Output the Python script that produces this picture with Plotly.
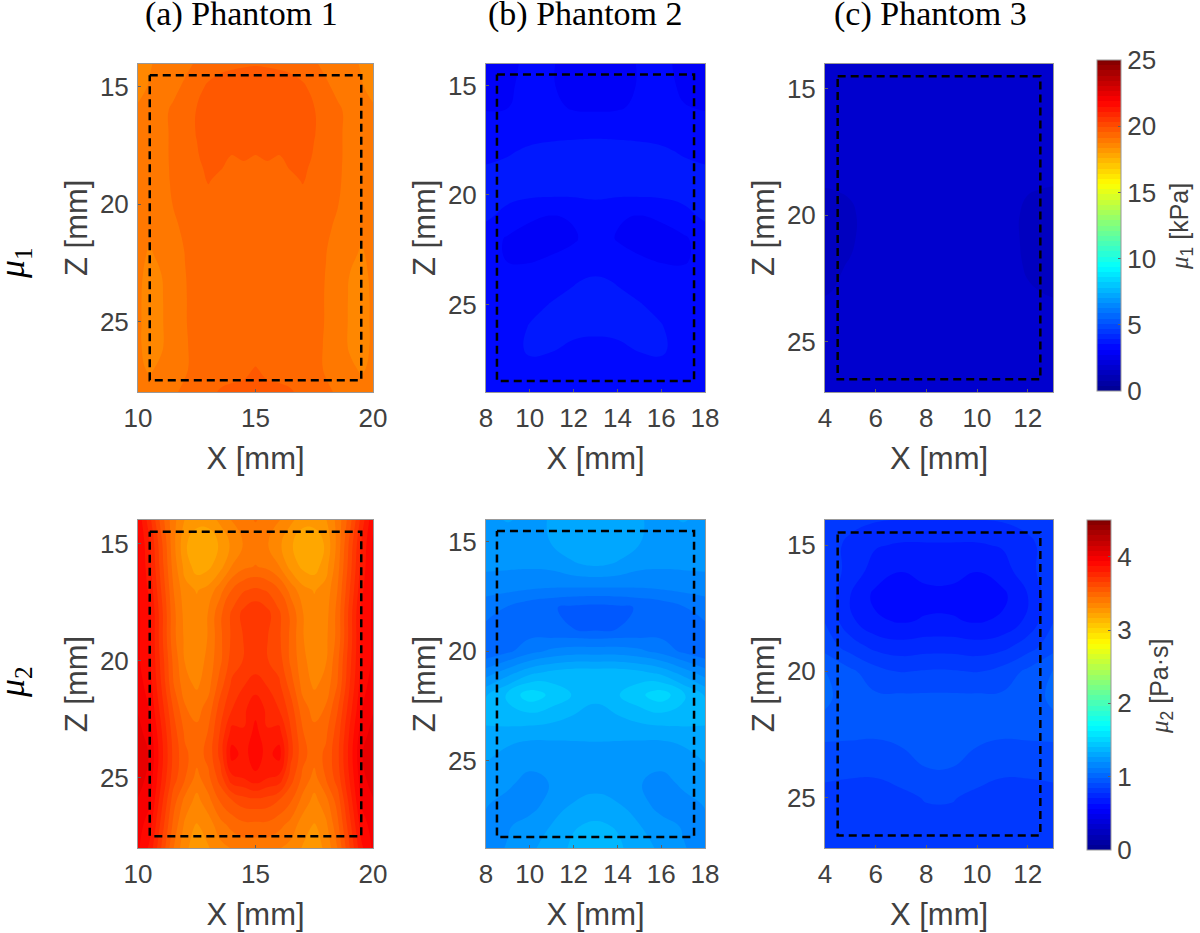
import plotly.graph_objects as go

JET = [[0, "rgb(0,0,143)"], [0.125, "rgb(0,0,255)"], [0.375, "rgb(0,255,255)"],
       [0.625, "rgb(255,255,0)"], [0.875, "rgb(255,0,0)"], [1, "rgb(128,0,0)"]]

# ---- axis grids ----
x1_fine = [10, 10.5, 11, 11.5, 12, 12.5, 13, 13.5, 14, 14.5, 15, 15.5, 16, 16.5, 17, 17.5, 18, 18.5, 19, 19.5, 20]
z1a = [14, 15, 16, 17, 18, 18.5, 19, 20, 21, 22, 23, 24, 25, 26, 27, 28]
z1 = [14, 15, 16, 17, 18, 19, 20, 21, 22, 23, 24, 25, 26, 27, 28]
x2 = [8, 9, 10, 11, 12, 13, 14, 15, 16, 17, 18]
z2 = [14, 15, 16, 17, 18, 19, 20, 21, 22, 23, 24, 25, 26, 27, 28, 29]
x3 = [4, 5, 6, 7, 8, 9, 10, 11, 12, 13]
z3 = [14, 15, 16, 17, 18, 19, 20, 21, 22, 23, 24, 25, 26, 27]

# ---- mu1 [kPa] ----
mu1_p1 = [
 [18.65,18.72,18.85,18.95,19.05,19.18,19.3,19.4,19.45,19.48,19.5,19.48,19.45,19.4,19.3,19.18,19.05,18.95,18.85,18.72,18.65],
 [18.65,18.78,18.92,19.05,19.2,19.4,19.6,19.7,19.75,19.78,19.8,19.78,19.75,19.7,19.6,19.4,19.2,19.05,18.92,18.78,18.65],
 [18.8,18.95,19.05,19.2,19.35,19.55,19.7,19.8,19.85,19.85,19.85,19.85,19.85,19.8,19.7,19.55,19.35,19.2,19.05,18.95,18.8],
 [18.85,18.95,19.05,19.2,19.35,19.55,19.7,19.78,19.8,19.8,19.8,19.8,19.8,19.78,19.7,19.55,19.35,19.2,19.05,18.95,18.85],
 [18.85,18.95,19.05,19.2,19.33,19.48,19.7,19.62,19.5,19.58,19.5,19.58,19.5,19.62,19.7,19.48,19.33,19.2,19.05,18.95,18.85],
 [18.85,18.95,19.05,19.19,19.3,19.42,19.62,19.55,19.42,19.42,19.42,19.42,19.42,19.55,19.62,19.42,19.3,19.19,19.05,18.95,18.85],
 [18.85,18.95,19.05,19.18,19.28,19.4,19.56,19.4,19.38,19.38,19.38,19.38,19.38,19.4,19.56,19.4,19.28,19.18,19.05,18.95,18.85],
 [18.85,18.95,19.03,19.15,19.25,19.3,19.36,19.35,19.35,19.35,19.35,19.35,19.35,19.35,19.36,19.3,19.25,19.15,19.03,18.95,18.85],
 [18.85,18.8,18.95,19.08,19.2,19.28,19.32,19.33,19.33,19.33,19.33,19.33,19.33,19.33,19.32,19.28,19.2,19.08,18.95,18.8,18.85],
 [18.85,18.72,18.85,19.0,19.15,19.25,19.3,19.32,19.32,19.32,19.32,19.32,19.32,19.32,19.3,19.25,19.15,19.0,18.85,18.72,18.85],
 [18.8,18.68,18.75,18.95,19.13,19.25,19.3,19.32,19.32,19.32,19.32,19.32,19.32,19.32,19.3,19.25,19.13,18.95,18.75,18.68,18.8],
 [18.78,18.68,18.72,18.95,19.12,19.25,19.3,19.32,19.32,19.32,19.32,19.32,19.32,19.32,19.3,19.25,19.12,18.95,18.72,18.68,18.78],
 [18.78,18.68,18.72,18.92,19.12,19.25,19.3,19.32,19.32,19.32,19.32,19.32,19.32,19.32,19.3,19.25,19.12,18.92,18.72,18.68,18.78],
 [18.78,18.68,18.72,18.9,19.1,19.25,19.3,19.32,19.32,19.32,19.33,19.32,19.32,19.32,19.3,19.25,19.1,18.9,18.72,18.68,18.78],
 [18.8,18.72,18.8,18.95,19.1,19.25,19.35,19.38,19.42,19.45,19.55,19.45,19.42,19.38,19.35,19.25,19.1,18.95,18.8,18.72,18.8],
 [18.9,18.85,18.95,19.1,19.2,19.3,19.45,19.56,19.6,19.62,19.66,19.62,19.6,19.56,19.45,19.3,19.2,19.1,18.95,18.85,18.9],
]
mu1_p2 = [
 [3.0,3.05,3.2,3.15,3.0,2.98,3.0,3.15,3.2,3.05,3.0],
 [3.02,3.08,3.22,3.15,3.0,2.95,3.0,3.15,3.22,3.08,3.02],
 [3.1,3.12,3.25,3.22,3.08,3.05,3.08,3.2,3.25,3.14,3.1],
 [3.25,3.28,3.33,3.38,3.4,3.42,3.4,3.38,3.33,3.28,3.25],
 [3.38,3.47,3.58,3.62,3.64,3.64,3.64,3.62,3.58,3.47,3.38],
 [3.6,3.65,3.68,3.7,3.7,3.7,3.7,3.7,3.68,3.65,3.6],
 [3.66,3.62,3.58,3.56,3.56,3.56,3.56,3.56,3.58,3.62,3.66],
 [3.58,3.38,3.17,3.1,3.16,3.36,3.16,3.1,3.17,3.38,3.58],
 [3.3,3.08,3.0,3.0,3.08,3.3,3.1,3.0,3.0,3.06,3.3],
 [3.25,3.11,3.1,3.17,3.28,3.35,3.28,3.17,3.1,3.08,3.25],
 [3.32,3.3,3.32,3.42,3.5,3.58,3.5,3.42,3.32,3.3,3.32],
 [3.3,3.34,3.44,3.53,3.6,3.62,3.6,3.53,3.44,3.34,3.3],
 [3.28,3.38,3.53,3.6,3.62,3.6,3.62,3.6,3.53,3.38,3.28],
 [3.25,3.35,3.58,3.55,3.45,3.42,3.45,3.55,3.58,3.35,3.25],
 [3.22,3.25,3.4,3.35,3.3,3.28,3.3,3.35,3.4,3.25,3.22],
 [3.2,3.2,3.22,3.22,3.22,3.22,3.22,3.22,3.22,3.2,3.2],
]
mu1_p3 = [
 [1.8,1.8,1.8,1.8,1.8,1.8,1.8,1.8,1.8,1.65],
 [1.8,1.8,1.8,1.8,1.8,1.8,1.8,1.8,1.75,1.6],
 [1.8,1.8,1.8,1.8,1.8,1.8,1.8,1.8,1.72,1.55],
 [1.8,1.8,1.8,1.8,1.8,1.8,1.8,1.8,1.78,1.62],
 [1.7,1.8,1.8,1.8,1.8,1.8,1.8,1.8,1.75,1.7],
 [1.55,1.59,1.75,1.8,1.8,1.8,1.8,1.75,1.58,1.54],
 [1.45,1.52,1.7,1.8,1.8,1.8,1.8,1.7,1.5,1.45],
 [1.45,1.53,1.7,1.8,1.8,1.8,1.8,1.7,1.5,1.45],
 [1.5,1.58,1.74,1.8,1.8,1.8,1.8,1.7,1.53,1.48],
 [1.54,1.62,1.78,1.8,1.8,1.8,1.8,1.76,1.59,1.53],
 [1.65,1.75,1.8,1.8,1.8,1.8,1.8,1.8,1.72,1.65],
 [1.8,1.8,1.8,1.8,1.8,1.8,1.8,1.8,1.8,1.8],
 [1.8,1.8,1.8,1.8,1.8,1.8,1.8,1.8,1.8,1.8],
 [1.8,1.8,1.8,1.8,1.8,1.8,1.8,1.8,1.8,1.8],
]

# ---- mu2 [Pa s] ----
mu2_p1 = [
 [3.92,3.75,3.55,3.4,3.3,3.27,3.27,3.32,3.38,3.42,3.45,3.42,3.38,3.32,3.27,3.27,3.3,3.4,3.55,3.75,3.92],
 [3.95,3.8,3.6,3.4,3.25,3.17,3.17,3.25,3.32,3.38,3.4,3.38,3.32,3.25,3.17,3.17,3.25,3.4,3.6,3.8,3.95],
 [3.95,3.82,3.62,3.42,3.28,3.2,3.22,3.28,3.38,3.43,3.45,3.43,3.38,3.28,3.22,3.2,3.28,3.42,3.62,3.82,3.95],
 [3.95,3.85,3.65,3.45,3.33,3.3,3.33,3.42,3.52,3.58,3.6,3.58,3.52,3.42,3.33,3.3,3.33,3.45,3.65,3.85,3.95],
 [3.95,3.88,3.68,3.47,3.35,3.33,3.38,3.5,3.6,3.68,3.72,3.68,3.6,3.5,3.38,3.33,3.35,3.47,3.68,3.88,3.95],
 [3.95,3.88,3.68,3.47,3.36,3.33,3.38,3.5,3.6,3.66,3.7,3.66,3.6,3.5,3.38,3.33,3.36,3.47,3.68,3.88,3.95],
 [3.95,3.88,3.7,3.5,3.37,3.33,3.4,3.5,3.62,3.66,3.68,3.66,3.62,3.5,3.4,3.33,3.37,3.5,3.7,3.88,3.95],
 [3.97,3.9,3.72,3.52,3.4,3.36,3.42,3.55,3.67,3.72,3.76,3.72,3.67,3.55,3.42,3.36,3.4,3.52,3.72,3.9,3.97],
 [4.0,3.93,3.76,3.58,3.45,3.42,3.47,3.62,3.72,3.78,3.84,3.78,3.72,3.62,3.47,3.42,3.45,3.58,3.76,3.93,4.0],
 [4.03,3.97,3.8,3.62,3.5,3.46,3.52,3.66,3.82,3.8,3.89,3.8,3.82,3.66,3.52,3.46,3.5,3.62,3.8,3.97,4.03],
 [4.06,4.0,3.82,3.64,3.53,3.48,3.54,3.68,3.9,3.84,3.91,3.84,3.9,3.68,3.54,3.48,3.53,3.64,3.82,4.0,4.06],
 [4.05,3.98,3.8,3.62,3.52,3.42,3.5,3.62,3.78,3.8,3.85,3.8,3.78,3.62,3.5,3.42,3.52,3.62,3.8,3.98,4.05],
 [4.0,3.95,3.75,3.55,3.42,3.35,3.42,3.52,3.58,3.62,3.63,3.62,3.58,3.52,3.42,3.35,3.42,3.55,3.75,3.95,4.0],
 [3.97,3.9,3.7,3.5,3.36,3.3,3.34,3.42,3.47,3.5,3.5,3.5,3.47,3.42,3.34,3.3,3.36,3.5,3.7,3.9,3.97],
 [3.95,3.85,3.65,3.45,3.32,3.27,3.3,3.35,3.38,3.4,3.4,3.4,3.38,3.35,3.3,3.27,3.32,3.45,3.65,3.85,3.95],
]
mu2_p2 = [
 [1.25,1.27,1.25,1.27,1.31,1.33,1.31,1.27,1.25,1.27,1.25],
 [1.22,1.23,1.23,1.27,1.31,1.33,1.31,1.27,1.23,1.23,1.22],
 [1.21,1.21,1.21,1.22,1.26,1.28,1.26,1.22,1.21,1.21,1.21],
 [1.17,1.16,1.15,1.14,1.14,1.14,1.14,1.14,1.15,1.16,1.17],
 [1.08,1.05,1.01,0.99,0.97,0.96,0.97,0.99,1.01,1.05,1.08],
 [1.04,1.03,1.02,1.0,0.985,0.975,0.985,1.0,1.02,1.03,1.04],
 [1.0,1.04,1.1,1.14,1.16,1.16,1.16,1.14,1.1,1.04,1.0],
 [1.16,1.24,1.32,1.36,1.38,1.38,1.38,1.36,1.32,1.24,1.16],
 [1.33,1.42,1.52,1.46,1.4,1.36,1.4,1.46,1.52,1.42,1.33],
 [1.36,1.38,1.38,1.36,1.33,1.3,1.33,1.36,1.38,1.38,1.36],
 [1.3,1.28,1.27,1.27,1.27,1.27,1.27,1.27,1.27,1.28,1.3],
 [1.27,1.24,1.22,1.22,1.23,1.24,1.23,1.22,1.22,1.24,1.27],
 [1.23,1.21,1.17,1.2,1.23,1.24,1.23,1.2,1.17,1.21,1.23],
 [1.2,1.17,1.17,1.22,1.27,1.29,1.27,1.22,1.17,1.17,1.2],
 [1.18,1.19,1.22,1.27,1.33,1.35,1.33,1.27,1.22,1.19,1.18],
 [1.17,1.2,1.25,1.3,1.35,1.36,1.35,1.3,1.25,1.2,1.17],
]
mu2_p3 = [
 [0.8,0.79,0.78,0.77,0.77,0.77,0.77,0.78,0.79,0.8],
 [0.8,0.76,0.71,0.695,0.695,0.695,0.695,0.71,0.76,0.8],
 [0.82,0.75,0.67,0.635,0.66,0.66,0.635,0.67,0.75,0.82],
 [0.83,0.7,0.615,0.6,0.61,0.61,0.6,0.615,0.7,0.83],
 [0.84,0.72,0.645,0.625,0.64,0.64,0.625,0.645,0.72,0.84],
 [0.885,0.81,0.75,0.73,0.74,0.74,0.73,0.75,0.81,0.885],
 [0.99,0.93,0.87,0.84,0.85,0.85,0.84,0.87,0.93,0.99],
 [1.0,0.95,0.925,0.925,0.925,0.925,0.925,0.925,0.95,1.0],
 [0.97,0.94,0.925,0.93,0.93,0.93,0.93,0.925,0.94,0.97],
 [0.9,0.905,0.909,0.914,0.93,0.93,0.914,0.909,0.905,0.9],
 [0.86,0.858,0.855,0.875,0.91,0.91,0.875,0.855,0.858,0.86],
 [0.82,0.8,0.805,0.825,0.85,0.85,0.825,0.805,0.8,0.82],
 [0.82,0.79,0.78,0.79,0.82,0.82,0.79,0.78,0.79,0.82],
 [0.8,0.78,0.78,0.78,0.79,0.79,0.78,0.78,0.78,0.8],
]

# ---- ROI rectangles ----
roi1_x = [10.5, 19.5, 19.5, 10.5, 10.5]; roi1_z = [14.5, 14.5, 27.5, 27.5, 14.5]
roi2_x = [8.5, 17.5, 17.5, 8.5, 8.5];    roi2_z = [14.5, 14.5, 28.5, 28.5, 14.5]
roi3_x = [4.5, 12.5, 12.5, 4.5, 4.5];    roi3_z = [14.5, 14.5, 26.5, 26.5, 14.5]

headings = ["(a) Phantom 1", "(b) Phantom 2", "(c) Phantom 3"]
x_ranges = [[10, 20], [8, 18], [4, 13]]
z_ranges = [[28, 14], [29, 14], [27, 14]]
x_ticks = [[10, 15, 20], [8, 10, 12, 14, 16, 18], [4, 6, 8, 10, 12]]
z_ticks = [15, 20, 25]
cb1_ticks = [0, 5, 10, 15, 20, 25]
cb2_ticks = [0, 1, 2, 3, 4]

W, H = 1200, 933
cols_px = [(138, 373), (486, 705), (825, 1053)]
rows_px = [(63.5, 392), (520, 848)]
LEVELS = 64
GREY = "#404040"
SANS = "Liberation Sans"
SERIF = "Liberation Serif"

fig = go.Figure()
grids = [(x1_fine, z1a, mu1_p1, roi1_x, roi1_z), (x2, z2, mu1_p2, roi2_x, roi2_z), (x3, z3, mu1_p3, roi3_x, roi3_z),
         (x1_fine, z1, mu2_p1, roi1_x, roi1_z), (x2, z2, mu2_p2, roi2_x, roi2_z), (x3, z3, mu2_p3, roi3_x, roi3_z)]

layout = {}
for i, (xs, zs, vals, rx, rz) in enumerate(grids):
    row, col = divmod(i, 3)
    n = i + 1
    sfx = "" if n == 1 else str(n)
    top = row == 0
    zmax = 25 if top else 4.5
    cbar = None
    if col == 0:
        cx0 = 1097 if top else 1087
        y0, y1 = (60, 391) if top else (520, 850)
        cbar = dict(x=cx0 / W, xanchor="left", xpad=0, ypad=0, thickness=24,
                    lenmode="pixels", len=y1 - y0, yanchor="top", y=1 - y0 / H,
                    tickmode="array", tickvals=cb1_ticks if top else cb2_ticks,
                    ticks="inside", ticklen=3, tickcolor="#606060",
                    tickfont=dict(family=SANS, size=26, color=GREY),
                    outlinecolor="#999999", outlinewidth=1, ticklabelposition="outside")
    fig.add_trace(go.Contour(
        x=xs, y=zs, z=vals, xaxis="x" + sfx, yaxis="y" + sfx,
        colorscale=JET, zmin=0, zmax=zmax, autocontour=False,
        contours=dict(start=0, end=zmax, size=zmax / LEVELS, coloring="fill", showlines=False),
        line=dict(width=0, smoothing=1.3), showscale=col == 0, colorbar=cbar, hoverinfo="skip"))
    fig.add_trace(go.Scatter(x=rx, y=rz, xaxis="x" + sfx, yaxis="y" + sfx, mode="lines",
                             line=dict(color="black", width=2.5, dash="8px,5px"),
                             showlegend=False, hoverinfo="skip"))
    xd = cols_px[col]; yd = rows_px[row]
    common = dict(showline=True, mirror=True, linecolor="#999999", linewidth=1,
                  ticks="inside", ticklen=3, tickcolor="#606060", showgrid=False, zeroline=False,
                  tickfont=dict(family=SANS, size=26, color=GREY))
    layout["xaxis" + sfx] = dict(common, domain=[xd[0] / W, xd[1] / W], range=x_ranges[col],
                                 anchor="y" + sfx, tickmode="array", tickvals=x_ticks[col], ticklabelstandoff=3,
                                 title=dict(text="X [mm]", standoff=15, font=dict(family=SANS, size=31, color=GREY)))
    layout["yaxis" + sfx] = dict(common, domain=[1 - yd[1] / H, 1 - yd[0] / H], range=z_ranges[col],
                                 anchor="x" + sfx, tickmode="array", tickvals=z_ticks, ticklabelstandoff=3,
                                 title=dict(text="Z [mm]", standoff=3, font=dict(family=SANS, size=31, color=GREY)))

annots = []
for text, cx in zip(headings, (241, 585, 930)):
    annots.append(dict(text=text, x=cx / W, y=1 - 14 / H, xref="paper", yref="paper", showarrow=False,
                       xanchor="center", yanchor="middle", font=dict(family=SERIF, size=34, color="black")))
for text, cy in (("<i>μ</i><sub>1</sub>", 263), ("<i>μ</i><sub>2</sub>", 682)):
    annots.append(dict(text=text, x=14 / W, y=1 - cy / H, xref="paper", yref="paper", showarrow=False, textangle=-90,
                       xanchor="center", yanchor="middle", font=dict(family=SERIF, size=36, color="black")))
MU = '<span style="font-family:Liberation Serif"><i>μ</i></span>'
for text, cx, cy in ((MU + "<sub>1</sub> [kPa]", 1181, 227), (MU + "<sub>2</sub> [Pa·s]", 1161, 686)):
    annots.append(dict(text=text, x=cx / W, y=1 - cy / H, xref="paper", yref="paper", showarrow=False, textangle=-90,
                       xanchor="center", yanchor="middle", font=dict(family=SANS, size=25, color=GREY)))

fig.update_layout(width=W, height=H, margin=dict(l=0, r=0, t=0, b=0, autoexpand=False), autosize=False,
                  paper_bgcolor="white", plot_bgcolor="white", showlegend=False,
                  annotations=annots, **layout)
fig.write_html("out.html", config={"displayModeBar": False},
               post_script="document.body.style.margin='0';document.body.style.overflow='hidden';")
